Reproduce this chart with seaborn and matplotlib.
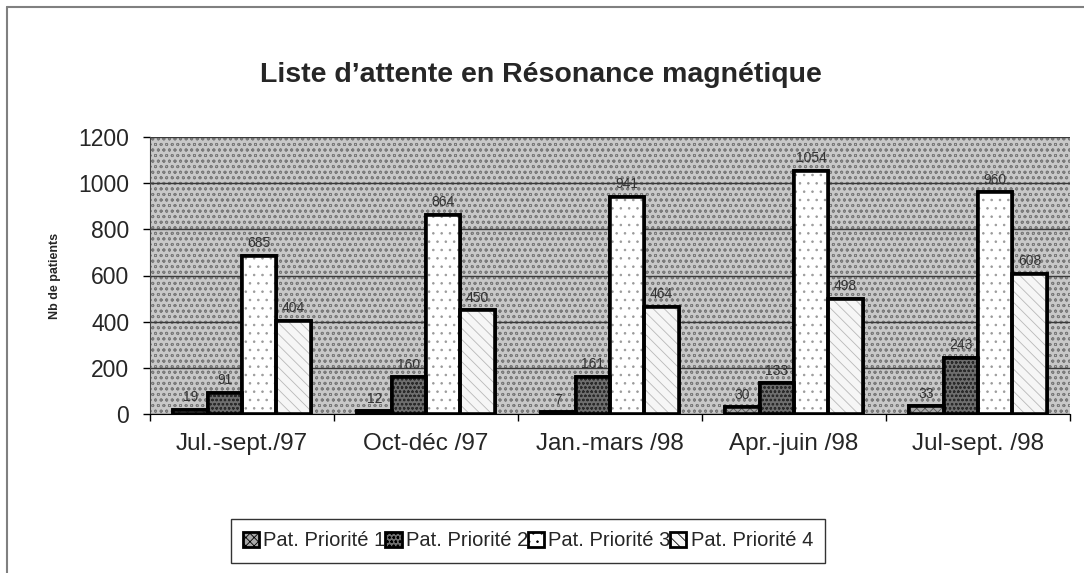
import matplotlib
matplotlib.use("Agg")
import matplotlib.pyplot as plt
import pandas as pd
import seaborn as sns
from matplotlib.patches import Rectangle
from matplotlib.lines import Line2D

periodes = ["Jul.-sept./97", "Oct-déc /97", "Jan.-mars /98", "Apr.-juin /98", "Jul-sept. /98"]
priorites = ["Pat. Priorité 1", "Pat. Priorité 2", "Pat. Priorité 3", "Pat. Priorité 4"]
prio1 = [19, 12, 7, 30, 33]
prio2 = [91, 160, 161, 133, 243]
prio3 = [685, 864, 941, 1054, 960]
prio4 = [404, 450, 464, 498, 608]

rows = []
for serie, vals in zip(priorites, [prio1, prio2, prio3, prio4]):
    for p, v in zip(periodes, vals):
        rows.append({"periode": p, "n": v, "priorite": serie})
df = pd.DataFrame(rows)

sns.set_style("white")
plt.rcParams["font.family"] = ["Liberation Sans", "DejaVu Sans"]
plt.rcParams["hatch.linewidth"] = 0.6

fig = plt.figure(figsize=(10.84, 5.73), dpi=100)
ax = fig.add_axes([150 / 1084, 1 - 414 / 573, 920 / 1084, 277 / 573])

# fond gris tramé
ax.set_facecolor("#c8c8c8")
ax.add_patch(Rectangle((0, 0), 1, 1, transform=ax.transAxes, facecolor="#c8c8c8",
                       edgecolor="#7a7a7a", hatch="ooo", linewidth=0, zorder=0.1))

couleurs = ["#a8a8a8", "#6e6e6e", "#ffffff", "#f6f6f6"]
hachures = ["xxxx", "oooo", ". .", "\\\\\\"]
hach_col = ["#555555", "#2a2a2a", "#9a9a9a", "#b8b8b8"]

sns.barplot(data=df, x="periode", y="n", hue="priorite", palette=couleurs,
            width=0.745, edgecolor="black", linewidth=2.6, ax=ax, legend=False,
            zorder=2)

for i, cont in enumerate(ax.containers):
    ax.bar_label(cont, fontsize=10, padding=4, color="#333333")

# hachures dans leur propre couleur, contour noir par-dessus
for i, cont in enumerate(ax.containers):
    for bar in cont:
        x, y = bar.get_xy()
        ax.add_patch(Rectangle((x, y), bar.get_width(), bar.get_height(),
                               facecolor=couleurs[i], edgecolor=hach_col[i],
                               hatch=hachures[i], linewidth=0, zorder=2.5))
        ax.add_patch(Rectangle((x, y), bar.get_width(), bar.get_height(),
                               facecolor="none", edgecolor="black",
                               linewidth=2.6, zorder=3))

ax.set_ylim(0, 1200)
ax.set_xlim(-0.5, 4.5)
ax.set_yticks(range(0, 1201, 200))
ax.yaxis.grid(True, color="#3a3a3a", linewidth=1)
ax.set_axisbelow(True)
for g in ax.get_ygridlines():
    g.set_zorder(0.5)

ax.set_xticks(range(5))
ax.set_xticklabels(periodes)
ax.set_xticks([k - 0.5 for k in range(6)], minor=True)
ax.tick_params(axis="x", which="major", length=0, pad=14, labelsize=17.5)
ax.tick_params(axis="x", which="minor", length=5, width=1, color="black", direction="out")
ax.tick_params(axis="y", length=5, width=1, color="black", direction="out", labelsize=16.5, pad=10)
ax.xaxis.set_tick_params(which="minor", bottom=True)
ax.yaxis.set_tick_params(left=True)

for s in ["top", "right"]:
    ax.spines[s].set_visible(False)
ax.spines["left"].set_color("#444444")
ax.spines["bottom"].set_color("black")

ax.set_xlabel("")
ax.set_ylabel("Nb de patients", fontsize=9, fontweight="bold", labelpad=12)

fig.text(541 / 1084, 1 - 75 / 573, "Liste d\u2019attente en Résonance magnétique",
         ha="center", va="center", fontsize=20.5, fontweight="bold")

# légende
handles = []
for i in range(4):
    handles.append(Rectangle((0, 0), 1, 1, facecolor=couleurs[i], edgecolor="black",
                             hatch=hachures[i], linewidth=2))
leg = fig.legend(handles, priorites, loc="center", bbox_to_anchor=(528 / 1084, 1 - 541 / 573),
                 ncol=4, fontsize=14.5, frameon=True, fancybox=False, edgecolor="black",
                 handlelength=0.8, handleheight=0.8, handletextpad=0.2, columnspacing=0.0,
                 borderpad=0.6)
leg.get_frame().set_linewidth(1)

# cadre extérieur
fig.add_artist(Line2D([7 / 1084, 1], [1 - 7 / 573, 1 - 7 / 573], transform=fig.transFigure,
                      color="#808080", linewidth=1.5))
fig.add_artist(Line2D([7 / 1084, 7 / 1084], [0, 1 - 7 / 573], transform=fig.transFigure,
                      color="#808080", linewidth=1.5))

fig.savefig("out.png", dpi=100)
